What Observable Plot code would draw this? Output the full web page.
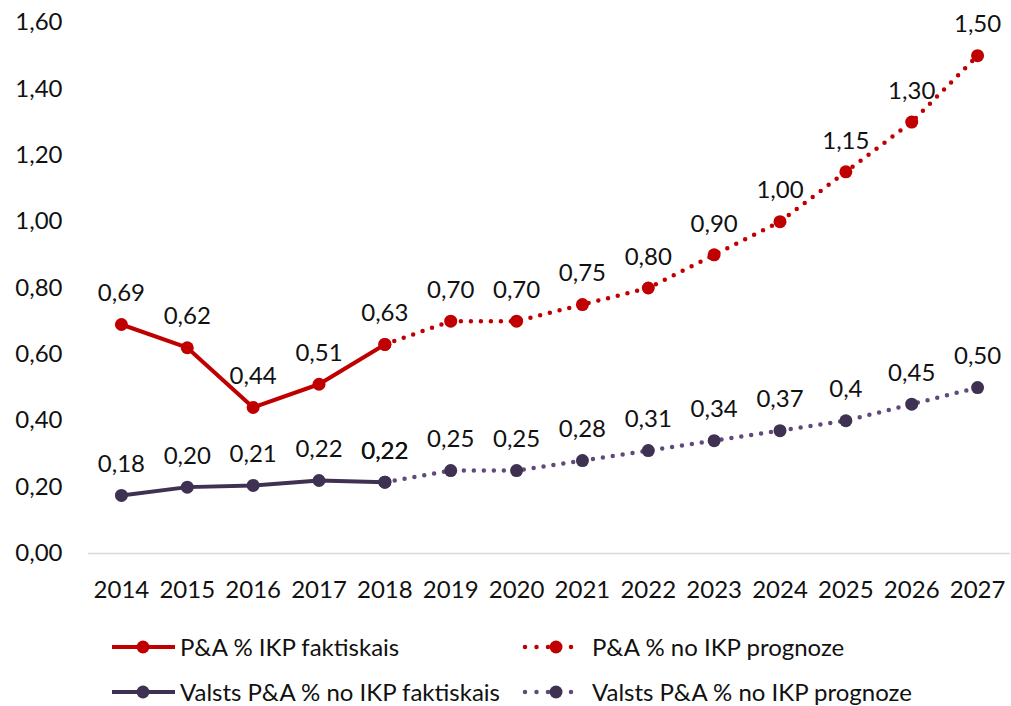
<!DOCTYPE html>
<html><head><meta charset="utf-8">
<script src="https://cdn.jsdelivr.net/npm/d3@7"></script>
<script src="https://cdn.jsdelivr.net/npm/@observablehq/plot@0.6"></script>
<style>
body{margin:0;background:#fff;font-family:Lato,"Open Sans",sans-serif;}
#wrap{position:relative;width:1011px;height:706px;overflow:hidden;}
#legend{position:absolute;left:0;top:0;width:1011px;height:706px;pointer-events:none;}
.li{position:absolute;display:flex;align-items:center;font-size:24px;line-height:26px;height:26px;color:#111;white-space:nowrap;}
.li svg{flex:none;}
</style></head>
<body><div id="wrap"><div id="chart"></div><div id="legend"></div></div>
<script>
const years = [2014,2015,2016,2017,2018,2019,2020,2021,2022,2023,2024,2025,2026,2027];
const redActualYears = [2014,2015,2016,2017,2018];
const redActual = [0.69,0.62,0.44,0.51,0.63];
const redActualLabels = ["0,69","0,62","0,44","0,51","0,63"];
const redForecastYears = [2018,2019,2020,2021,2022,2023,2024,2025,2026,2027];
const redForecast = [0.63,0.70,0.70,0.75,0.80,0.90,1.00,1.15,1.30,1.50];
const redForecastLabels = ["","0,70","0,70","0,75","0,80","0,90","1,00","1,15","1,30","1,50"];
const purpleActualYears = [2014,2015,2016,2017,2018];
const purpleActual = [0.175,0.20,0.205,0.22,0.215];
const purpleActualLabels = ["0,18","0,20","0,21","0,22","0,22"];
const purpleForecastYears = [2018,2019,2020,2021,2022,2023,2024,2025,2026,2027];
const purpleForecast = [0.215,0.25,0.25,0.28,0.31,0.34,0.37,0.40,0.45,0.50];
const purpleForecastLabels = ["0,22","0,25","0,25","0,28","0,31","0,34","0,37","0,4","0,45","0,50"];
const yTicks = [0,0.2,0.4,0.6,0.8,1.0,1.2,1.4,1.6];
const legendNames = ["P&A % IKP faktiskais","P&A % no IKP prognoze","Valsts P&A % no IKP faktiskais","Valsts P&A % no IKP prognoze"];

const RED = "#C00000", PURPLE = "#3F3151", PURPLE_DOT = "#604A7B";
const toRows = (ys, vs, ls) => ys.map((y,i)=>({year:y, v:vs[i], label:ls[i]}));
const ra = toRows(redActualYears, redActual, redActualLabels);
const rf = toRows(redForecastYears, redForecast, redForecastLabels);
const pa = toRows(purpleActualYears, purpleActual, purpleActualLabels);
const pf = toRows(purpleForecastYears, purpleForecast, purpleForecastLabels);
const fmt = d => d.toFixed(2).replace(".", ",");
const FS = 24;

const chart = Plot.plot({
  width: 1011, height: 610,
  marginLeft: 88, marginRight: 1, marginTop: 22, marginBottom: 57,
  style: {fontFamily: "Lato, 'Open Sans', sans-serif", fontSize: FS + "px", color: "#111", background: "#fff"},
  x: {type: "point", domain: years, padding: 0.5, round: false, label: null},
  y: {domain: [0, 1.6], label: null},
  marks: [
    Plot.ruleY([0], {stroke: "#D9D9D9", strokeWidth: 1.5}),
    Plot.axisY({ticks: yTicks, tickFormat: fmt, tickSize: 0, tickPadding: 26, label: null, fontSize: FS}),
    Plot.axisX({tickSize: 0, tickPadding: 27, label: null, tickFormat: d => String(d), fontSize: FS}),
    Plot.line(rf, {x: "year", y: "v", stroke: RED, strokeWidth: 4.5, strokeDasharray: "0,10", strokeLinecap: "round"}),
    Plot.line(pf, {x: "year", y: "v", stroke: PURPLE_DOT, strokeWidth: 4.5, strokeDasharray: "0,10", strokeLinecap: "round"}),
    Plot.line(ra, {x: "year", y: "v", stroke: RED, strokeWidth: 4}),
    Plot.line(pa, {x: "year", y: "v", stroke: PURPLE, strokeWidth: 4}),
    Plot.dot(rf, {x: "year", y: "v", r: 6.5, fill: RED}),
    Plot.dot(pf, {x: "year", y: "v", r: 6.5, fill: PURPLE}),
    Plot.dot(ra, {x: "year", y: "v", r: 6.5, fill: RED}),
    Plot.dot(pa, {x: "year", y: "v", r: 6.5, fill: PURPLE}),
    Plot.text(ra, {x: "year", y: "v", text: "label", dy: -31, fontSize: FS, fill: "#111"}),
    Plot.text(rf, {x: "year", y: "v", text: "label", dy: -31, fontSize: FS, fill: "#111"}),
    Plot.text(pa, {x: "year", y: "v", text: "label", dy: -31, fontSize: FS, fill: "#111"}),
    Plot.text(pf, {x: "year", y: "v", text: "label", dy: -31, fontSize: FS, fill: "#111"})
  ]
});
document.getElementById("chart").appendChild(chart);

// legend
function sym(color, dotted) {
  const mc = color === PURPLE_DOT ? PURPLE : color;
  if (dotted) {
    return `<svg width="70" height="20"><line x1="3" y1="10" x2="60" y2="10" stroke="${color}" stroke-width="4.5" stroke-dasharray="0,11.5" stroke-linecap="round"/><circle cx="34" cy="10" r="6.5" fill="${mc}"/></svg>`;
  }
  return `<svg width="70" height="20"><line x1="2" y1="10" x2="65" y2="10" stroke="${color}" stroke-width="4"/><circle cx="33" cy="10" r="6.5" fill="${mc}"/></svg>`;
}
const items = [
  {name: legendNames[0], color: RED, dotted: false, x: 110, y: 647},
  {name: legendNames[1], color: RED, dotted: true, x: 522, y: 647},
  {name: legendNames[2], color: PURPLE, dotted: false, x: 110, y: 692},
  {name: legendNames[3], color: PURPLE_DOT, dotted: true, x: 522, y: 692}
];
const lg = document.getElementById("legend");
for (const it of items) {
  const d = document.createElement("div");
  d.className = "li";
  d.style.left = it.x + "px";
  d.style.top = (it.y - 13) + "px";
  d.innerHTML = sym(it.color, it.dotted) + `<span></span>`;
  d.querySelector("span").textContent = it.name;
  lg.appendChild(d);
}
</script></body></html>
